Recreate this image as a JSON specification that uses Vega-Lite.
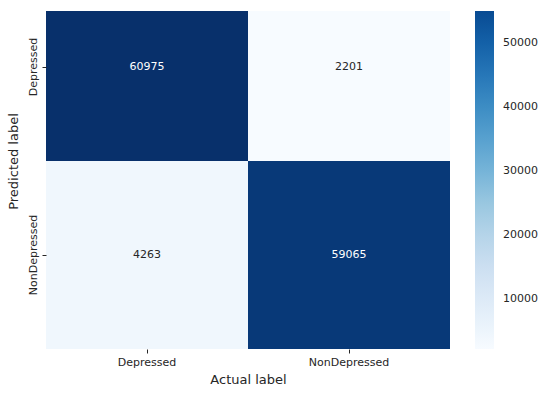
{
  "$schema": "https://vega.github.io/schema/vega-lite/v6.json",
  "width": 404,
  "height": 338,
  "autosize": {"type": "none"},
  "padding": {"left": 46, "top": 11, "right": 100, "bottom": 44},
  "background": "white",
  "config": {
    "view": {"stroke": null},
    "font": "DejaVu Sans",
    "axis": {
      "domain": false,
      "grid": false,
      "tickSize": 4,
      "tickColor": "#262626",
      "labelFontSize": 11,
      "labelColor": "#262626",
      "titleFontSize": 13,
      "titleFontWeight": "normal",
      "titleColor": "#262626",
      "labelFont": "DejaVu Sans",
      "titleFont": "DejaVu Sans"
    }
  },
  "data": {
    "values": [
      {"actual": "Depressed", "predicted": "Depressed", "count": 60975},
      {"actual": "NonDepressed", "predicted": "Depressed", "count": 2201},
      {"actual": "Depressed", "predicted": "NonDepressed", "count": 4263},
      {"actual": "NonDepressed", "predicted": "NonDepressed", "count": 59065}
    ]
  },
  "encoding": {
    "x": {
      "field": "actual",
      "type": "nominal",
      "sort": null,
      "scale": {"paddingInner": 0, "paddingOuter": 0},
      "axis": {"title": "Actual label", "labelAngle": 0, "labelPadding": 3, "titlePadding": 6}
    },
    "y": {
      "field": "predicted",
      "type": "nominal",
      "sort": null,
      "scale": {"range": [-38, 338], "paddingInner": 0, "paddingOuter": 0},
      "axis": {"title": "Predicted label", "labelAngle": -90, "labelPadding": 4, "titlePadding": 7}
    }
  },
  "layer": [
    {
      "mark": {"type": "rect", "clip": true, "strokeWidth": 0},
      "encoding": {
        "fill": {
          "field": "count",
          "type": "quantitative",
          "scale": {
            "domain": [2201, 9547.75, 16894.5, 24241.25, 31588, 38934.75, 46281.5, 53628.25, 60975],
            "range": ["#f7fbff", "#deebf7", "#c6dbef", "#9ecae1", "#6baed6", "#4292c6", "#2171b5", "#08519c", "#08306b"],
            "interpolate": "rgb"
          },
          "legend": null
        },
        "stroke": {
          "field": "count",
          "type": "quantitative",
          "scale": {
            "domain": [2201, 9547.75, 16894.5, 24241.25, 31588, 38934.75, 46281.5, 53628.25, 55036],
            "range": ["#f7fbff", "#deebf7", "#c6dbef", "#9ecae1", "#6baed6", "#4292c6", "#2171b5", "#08519c", "#084b93"],
            "interpolate": "rgb",
            "clamp": true
          },
          "legend": {
            "title": null,
            "direction": "vertical",
            "values": [10000, 20000, 30000, 40000, 50000],
            "format": "d",
            "gradientLength": 338,
            "gradientThickness": 19,
            "gradientStrokeWidth": 0,
            "offset": 25,
            "padding": 0,
            "labelFontSize": 11,
            "labelColor": "#262626",
            "labelOffset": 9,
            "labelOverlap": false
          }
        }
      }
    },
    {
      "mark": {"type": "text", "fontSize": 11, "font": "DejaVu Sans"},
      "encoding": {
        "text": {"field": "count", "type": "quantitative", "format": "d"},
        "color": {
          "condition": {"test": "datum.count > 30000", "value": "white"},
          "value": "#262626"
        }
      }
    }
  ]
}
